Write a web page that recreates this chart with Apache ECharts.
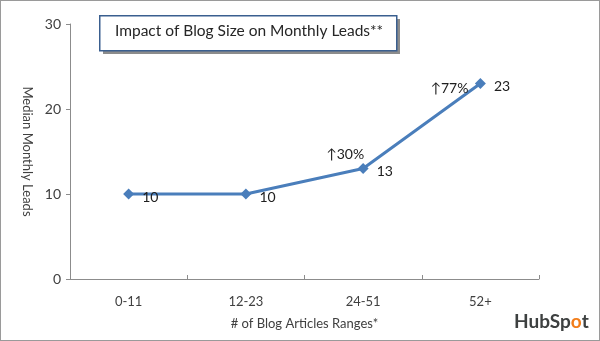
<!DOCTYPE html>
<html>
<head>
<meta charset="utf-8">
<script src="https://cdn.jsdelivr.net/npm/echarts@6/dist/echarts.min.js"></script>
<style>
  html, body { margin: 0; padding: 0; background: #fff; }
  #chart { width: 600px; height: 341px; box-sizing: border-box; border: 1px solid #9a9a9a; }
</style>
</head>
<body>
<div id="chart"></div>
<script>
// Blog size ranges and median monthly leads
const categories = ['0-11', '12-23', '24-51', '52+'];
const leads = [10, 10, 13, 23];
const growth = ['', '', '↑30%', '↑77%'];
const yTicks = [0, 10, 20, 30];

const FONT = 'Lato, "Open Sans", sans-serif';
const TEXT = '#404040';

const chart = echarts.init(document.getElementById('chart'), null, { renderer: 'canvas' });

// growth note placement relative to its point
const growthOffsets = [[0, 0], [0, 0], [-18, -14], [-31, 5]];

const growthMarks = [];
growth.forEach((g, i) => {
  if (!g) return;
  growthMarks.push({
    coord: [categories[i], leads[i]],
    symbol: 'circle',
    symbolSize: 1,
    itemStyle: { color: 'rgba(0,0,0,0)' },
    label: {
      show: true,
      position: 'inside',
      formatter: g,
      offset: growthOffsets[i],
      color: '#202020',
      fontFamily: FONT,
      fontSize: 14
    }
  });
});

chart.setOption({
  animation: false,
  backgroundColor: '#ffffff',
  grid: { left: 69, right: 60, top: 23, bottom: 61 },
  xAxis: {
    type: 'category',
    data: categories,
    boundaryGap: true,
    name: '# of Blog Articles Ranges*',
    nameLocation: 'middle',
    nameGap: 38,
    nameTextStyle: { color: TEXT, fontFamily: FONT, fontSize: 13 },
    axisLine: { lineStyle: { color: '#8c8c8c', width: 1 } },
    axisTick: { show: true, inside: true, length: 4, lineStyle: { color: '#8c8c8c' } },
    axisLabel: { color: TEXT, fontFamily: FONT, fontSize: 13, margin: 16 }
  },
  yAxis: {
    type: 'value',
    min: yTicks[0],
    max: yTicks[yTicks.length - 1],
    interval: 10,
    name: 'Median Monthly Leads',
    nameLocation: 'middle',
    nameGap: 36,
    nameRotate: -90,
    nameTextStyle: { color: TEXT, fontFamily: FONT, fontSize: 13 },
    axisLine: { show: true, lineStyle: { color: '#8c8c8c', width: 1 } },
    axisTick: { show: true, length: 4, lineStyle: { color: '#8c8c8c' } },
    splitLine: { show: false },
    axisLabel: { color: TEXT, fontFamily: FONT, fontSize: 14, margin: 9 }
  },
  series: [{
    type: 'line',
    data: leads,
    symbol: 'diamond',
    symbolSize: 11,
    lineStyle: { color: '#4a7ebb', width: 3 },
    itemStyle: { color: '#4a7ebb' },
    label: {
      show: true,
      position: 'right',
      distance: 8,
      offset: [0, 3],
      color: '#202020',
      fontFamily: FONT,
      fontSize: 14
    },
    markPoint: {
      silent: true,
      data: growthMarks
    }
  }],
  graphic: [
    // title box shadow
    { type: 'rect', left: 102, top: 18, shape: { width: 297, height: 35 }, style: { fill: '#8c8c8c' }, silent: true },
    // title box
    {
      type: 'rect', left: 98, top: 14, shape: { width: 297, height: 35 },
      style: { fill: '#ffffff', stroke: '#3a5f8f', lineWidth: 1.5 }, silent: true
    },
    {
      type: 'text', left: 114, top: 22,
      style: { text: 'Impact of Blog Size on Monthly Leads**', fill: '#262626', font: '15.5px ' + FONT },
      silent: true
    },
    // brand mark
    {
      type: 'text', left: 513, top: 311,
      style: {
        text: '{a|HubSp}{b|o}{a|t}',
        rich: {
          a: { fill: '#3d4040', font: 'bold 19px ' + FONT },
          b: { fill: '#f27d1a', font: 'bold 19px ' + FONT }
        }
      },
      silent: true
    }
  ]
});
</script>
</body>
</html>
